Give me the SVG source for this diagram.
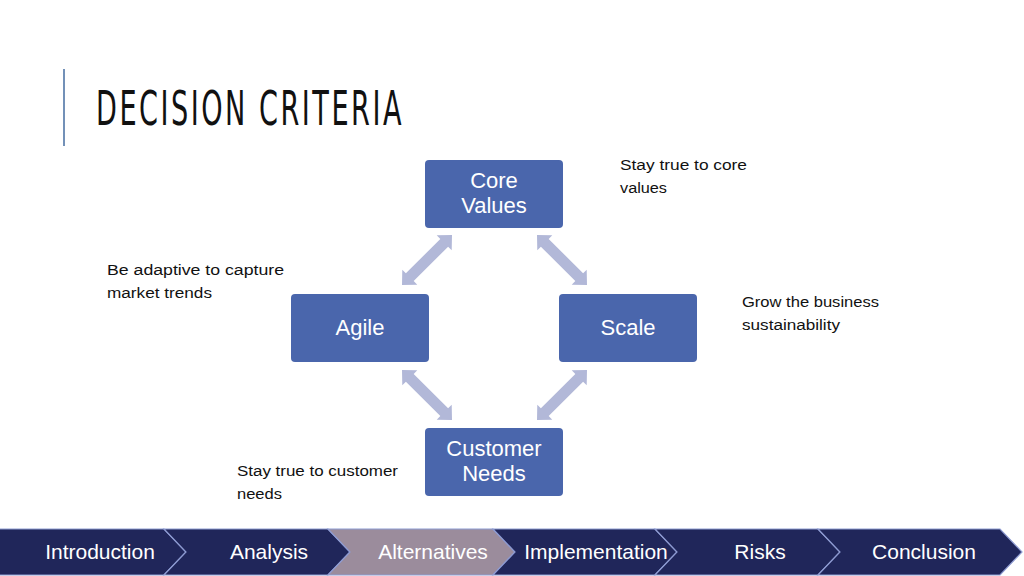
<svg xmlns="http://www.w3.org/2000/svg" width="1024" height="576" viewBox="0 0 1024 576">
<style>
.node{fill:#4a66ac;}
.nt{font-family:"Liberation Sans",Arial,sans-serif;font-size:22px;fill:#ffffff;text-anchor:middle;}
.ann{font-family:"Liberation Sans",Arial,sans-serif;font-size:15.5px;fill:#111111;}
.arr{fill:#b2b8d8;}
.chev{fill:#20265a;stroke:#8e9bd2;stroke-width:1.2;}
.chev.hl{fill:#9b8c9c;}
.ct{font-family:"Liberation Sans",Arial,sans-serif;font-size:21px;fill:#ffffff;text-anchor:middle;}
</style>
<defs>
<polygon id="dbl" points="0,0 11,-10.6 11,-5.5 59.7,-5.5 59.7,-10.6 70.7,0 59.7,10.6 59.7,5.5 11,5.5 11,10.6"/>
</defs>
<rect width="1024" height="576" fill="#ffffff"/>
<g id="title">
<line x1="64" y1="69" x2="64" y2="146" stroke="#7391b8" stroke-width="2"/>
<text x="96" y="125" font-family="'DejaVu Sans Condensed','Liberation Sans Narrow','Liberation Sans',sans-serif" font-size="48" letter-spacing="4" fill="#111111" textLength="308" lengthAdjust="spacingAndGlyphs">DECISION CRITERIA</text>
</g>
<g id="connectors">
<use href="#dbl" class="arr" transform="translate(402,285) rotate(-45)"/>
<use href="#dbl" class="arr" transform="translate(537,235) rotate(45)"/>
<use href="#dbl" class="arr" transform="translate(402,370) rotate(45)"/>
<use href="#dbl" class="arr" transform="translate(537,420) rotate(-45)"/>
</g>
<g id="node-core">
<rect class="node" x="425" y="160" width="138" height="68" rx="4"/>
<text class="nt" x="494" y="188">Core</text>
<text class="nt" x="494" y="213">Values</text>
</g>
<g id="node-agile">
<rect class="node" x="291" y="294" width="138" height="68" rx="4"/>
<text class="nt" x="360" y="335">Agile</text>
</g>
<g id="node-scale">
<rect class="node" x="559" y="294" width="138" height="68" rx="4"/>
<text class="nt" x="628" y="335">Scale</text>
</g>
<g id="node-customer">
<rect class="node" x="425" y="428" width="138" height="68" rx="4"/>
<text class="nt" x="494" y="456">Customer</text>
<text class="nt" x="494" y="481">Needs</text>
</g>
<g id="ann-core">
<text class="ann" x="620" y="170" textLength="127" lengthAdjust="spacingAndGlyphs">Stay true to core</text>
<text class="ann" x="620" y="193" textLength="47" lengthAdjust="spacingAndGlyphs">values</text>
</g>
<g id="ann-agile">
<text class="ann" x="107" y="275" textLength="177" lengthAdjust="spacingAndGlyphs">Be adaptive to capture</text>
<text class="ann" x="107" y="298" textLength="105" lengthAdjust="spacingAndGlyphs">market trends</text>
</g>
<g id="ann-scale">
<text class="ann" x="742" y="307" textLength="137" lengthAdjust="spacingAndGlyphs">Grow the business</text>
<text class="ann" x="742" y="330" textLength="98" lengthAdjust="spacingAndGlyphs">sustainability</text>
</g>
<g id="ann-customer">
<text class="ann" x="237" y="476" textLength="161" lengthAdjust="spacingAndGlyphs">Stay true to customer</text>
<text class="ann" x="237" y="499" textLength="45" lengthAdjust="spacingAndGlyphs">needs</text>
</g>
<g id="nav">
<polygon class="chev" points="-2,529 164,529 186,552 164,575 -2,575"/>
<polygon class="chev" points="164,529 328,529 350,552 328,575 164,575 186,552"/>
<polygon class="chev hl" points="328,529 493,529 515,552 493,575 328,575 350,552"/>
<polygon class="chev" points="493,529 655,529 677,552 655,575 493,575 515,552"/>
<polygon class="chev" points="655,529 818,529 840,552 818,575 655,575 677,552"/>
<polygon class="chev" points="818,529 1000,529 1022,552 1000,575 818,575 840,552"/>
<text class="ct" x="100" y="559">Introduction</text>
<text class="ct" x="269" y="559">Analysis</text>
<text class="ct" x="433" y="559">Alternatives</text>
<text class="ct" x="596" y="559">Implementation</text>
<text class="ct" x="760" y="559">Risks</text>
<text class="ct" x="924" y="559">Conclusion</text>
</g>
</svg>
